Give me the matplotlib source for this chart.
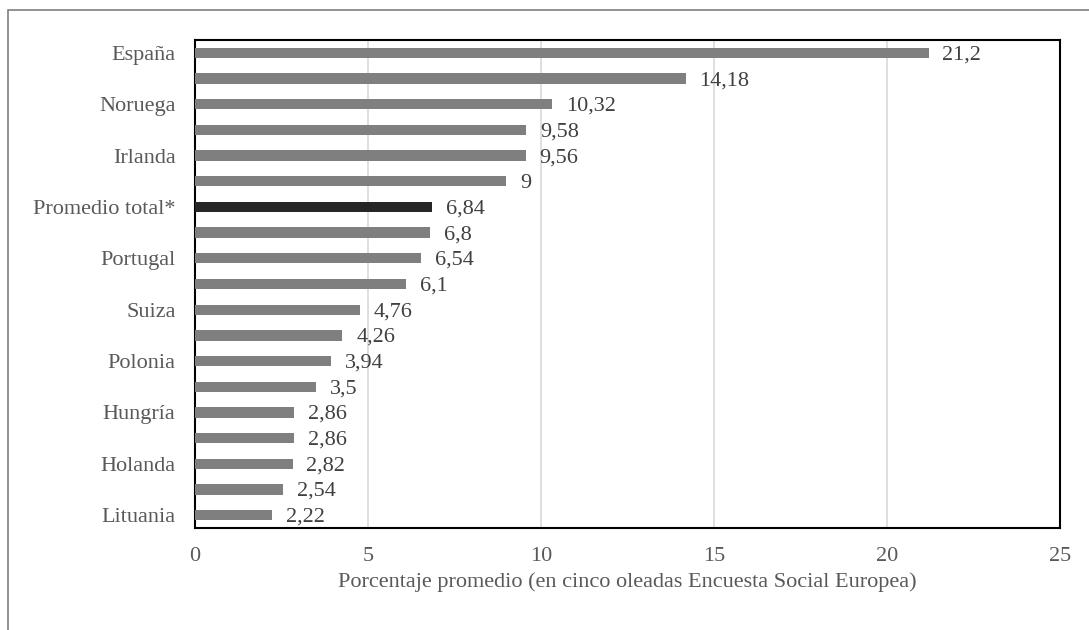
import matplotlib.pyplot as plt
from matplotlib.patches import Rectangle

plt.rcParams['font.family'] = ['Liberation Serif', 'DejaVu Serif']

# categories top to bottom (only every other label is shown in the original)
labels = ["España", "", "Noruega", "", "Irlanda", "", "Promedio total*", "",
          "Portugal", "", "Suiza", "", "Polonia", "", "Hungría", "", "Holanda", "", "Lituania"]
values = [21.2, 14.18, 10.32, 9.58, 9.56, 9, 6.84, 6.8, 6.54, 6.1,
          4.76, 4.26, 3.94, 3.5, 2.86, 2.86, 2.82, 2.54, 2.22]
xticks = [0, 5, 10, 15, 20, 25]

colors = ["#262626" if l.startswith("Promedio") else "#7f7f7f" for l in labels]
fs = 16

fig = plt.figure(figsize=(10.89, 6.3), dpi=100)
ax = fig.add_axes([195 / 1089, 1 - 528 / 630, 865 / 1089, 488 / 630])

# outer chart border (clipped at right / bottom like the source image)
fig.patches.append(Rectangle((8 / 1089, -0.1), 1.2, 1 - 10 / 630 + 0.1,
                             transform=fig.transFigure, fill=False,
                             edgecolor="#7f7f7f", linewidth=1.2))

y = list(range(len(values)))
ax.barh(y, values, height=0.4, color=colors, zorder=3)
for yi, v in zip(y, values):
    txt = ("%g" % v).replace(".", ",")
    ax.text(v + 0.4, yi + 0.08, txt, va="center", ha="left",
            fontsize=fs, color="#404040", zorder=4)

ax.set_ylim(len(values) - 0.5, -0.5)
ax.set_xlim(0, 25)
ax.set_yticks(y)
ax.set_yticklabels(labels, fontsize=fs, color="#595959")
ax.set_xticks(xticks)
ax.set_xticklabels([str(t) for t in xticks], fontsize=fs, color="#595959")
ax.tick_params(axis="x", length=0, pad=14)
ax.tick_params(axis="y", length=0, pad=14)
ax.xaxis.grid(True, color="#d9d9d9", linewidth=1.2, zorder=0)
ax.set_axisbelow(True)
for s in ax.spines.values():
    s.set_color("black")
    s.set_linewidth(1.5)
ax.set_xlabel("Porcentaje promedio (en cinco oleadas Encuesta Social Europea)",
              fontsize=fs, color="#595959", labelpad=4)

fig.savefig("out.png", dpi=100)
